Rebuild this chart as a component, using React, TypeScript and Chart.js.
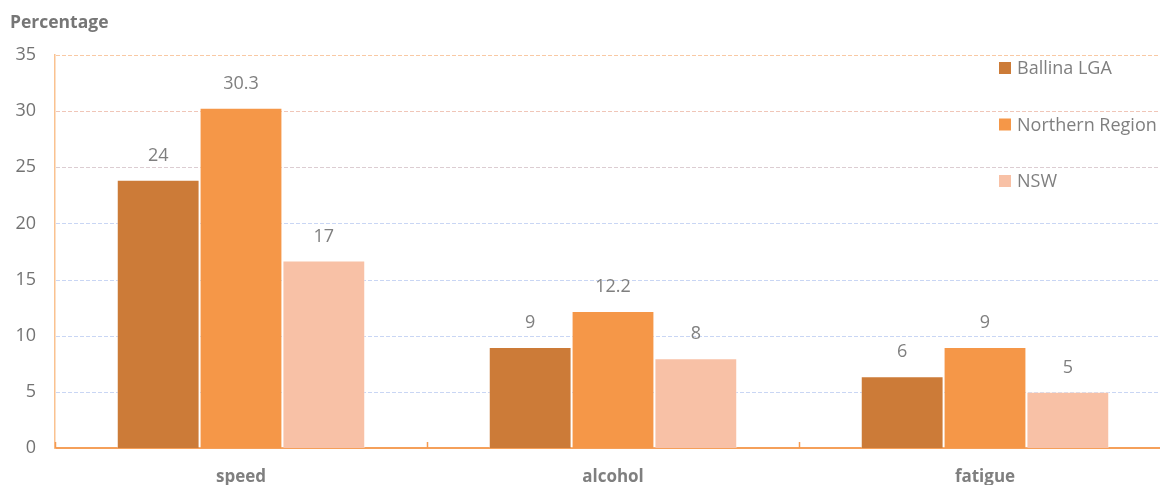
import { useEffect, useRef } from 'react'
import { Chart, registerables } from 'chart.js'
import type { Plugin } from 'chart.js'

Chart.register(...registerables)

const CATEGORIES = ['speed', 'alcohol', 'fatigue']
const SERIES_NAMES = ['Ballina LGA', 'Northern Region', 'NSW']
const BALLINA = [23.9, 9.0, 6.4]
const NORTHERN = [30.3, 12.2, 9.0]
const NSW = [16.7, 8.0, 5.0]
// decimals shown in the value labels, per series
const LABEL_DECIMALS = [0, 1, 0]
const Y_TICKS = [0, 5, 10, 15, 20, 25, 30, 35]
const Y_TITLE = 'Percentage'

const COLOURS = ['#cc7b38', '#f59748', '#f8c1a6']
const FONT = '"Open Sans", "DejaVu Sans", sans-serif'
const GREY = '#7f7f7f'

function gridColour(v: number) {
  if (v >= 35) return '#f9c9a4'
  if (v >= 30) return '#f0c6b8'
  if (v >= 25) return '#dccdd2'
  return '#c9d6f4'
}

function fmt(v: number, d: number) {
  return d === 0 ? String(Math.round(v)) : String(Number(v.toFixed(d)))
}

// dashed horizontal gridlines, tinted from peach (top) to blue (bottom)
const tintedGrid: Plugin<'bar'> = {
  id: 'tintedGrid',
  beforeDatasetsDraw(chart) {
    const { ctx, chartArea } = chart
    const y = chart.scales.y
    ctx.save()
    ctx.lineWidth = 1
    ctx.setLineDash([4, 2])
    Y_TICKS.forEach((v) => {
      if (v === 0) return
      const py = Math.round(y.getPixelForValue(v)) + 0.5
      ctx.strokeStyle = gridColour(v)
      ctx.beginPath()
      ctx.moveTo(chartArea.left + 1, py)
      ctx.lineTo(chartArea.right, py)
      ctx.stroke()
    })
    ctx.restore()
  },
}

const valueLabels: Plugin<'bar'> = {
  id: 'valueLabels',
  afterDatasetsDraw(chart) {
    const { ctx } = chart
    ctx.save()
    ctx.font = `18px ${FONT}`
    ctx.fillStyle = GREY
    ctx.textAlign = 'center'
    ctx.textBaseline = 'middle'
    chart.data.datasets.forEach((ds, di) => {
      chart.getDatasetMeta(di).data.forEach((el, i) => {
        ctx.fillText(fmt(ds.data[i] as number, LABEL_DECIMALS[di]), el.x, el.y - 24)
      })
    })
    ctx.restore()
  },
}

const sideLegend: Plugin<'bar'> = {
  id: 'sideLegend',
  afterDraw(chart) {
    const { ctx } = chart
    ctx.save()
    ctx.font = `18px ${FONT}`
    ctx.textBaseline = 'middle'
    ctx.textAlign = 'left'
    chart.data.datasets.forEach((ds, i) => {
      const y = 68 + i * 56.5
      ctx.fillStyle = ds.backgroundColor as string
      ctx.fillRect(999, y - 6, 12, 12)
      ctx.fillStyle = GREY
      ctx.fillText(ds.label ?? '', 1017, y + 1)
    })
    // axis title
    ctx.font = `bold 17.5px ${FONT}`
    ctx.fillStyle = '#767676'
    ctx.fillText(Y_TITLE, 10, 23)
    ctx.restore()
  },
}

const catTicks: Plugin<'bar'> = {
  id: 'catTicks',
  afterDatasetsDraw(chart) {
    const { ctx, chartArea } = chart
    const x = chart.scales.x
    ctx.save()
    ctx.strokeStyle = '#f59a50'
    ctx.lineWidth = 1.5
    for (let i = 0; i <= CATEGORIES.length; i++) {
      const px = Math.round(x.getPixelForValue(i - 0.5)) + 0.5
      ctx.beginPath()
      ctx.moveTo(px, chartArea.bottom)
      ctx.lineTo(px, chartArea.bottom - 6)
      ctx.stroke()
    }
    ctx.restore()
  },
}

export default function App() {
  const canvasRef = useRef<HTMLCanvasElement>(null)
  const chartRef = useRef<Chart | null>(null)

  useEffect(() => {
    if (!canvasRef.current) return
    chartRef.current?.destroy()
    const series = [BALLINA, NORTHERN, NSW]
    chartRef.current = new Chart(canvasRef.current, {
      type: 'bar',
      data: {
        labels: CATEGORIES,
        datasets: series.map((d, i) => ({
          label: SERIES_NAMES[i],
          data: d,
          backgroundColor: COLOURS[i],
          borderColor: 'rgba(255,255,255,0.35)',
          borderWidth: 1,
          categoryPercentage: 0.668,
          barPercentage: 1.0,
        })),
      },
      options: {
        responsive: true,
        maintainAspectRatio: false,
        animation: false,
        layout: { padding: { left: 0, right: 9, top: 55, bottom: 0 } },
        plugins: {
          legend: { display: false },
          tooltip: { enabled: false },
        },
        scales: {
          x: {
            afterFit: (s) => { s.height = 37 },
            grid: { display: false },
            border: { display: true, color: '#f5a05a', width: 2 },
            ticks: { color: GREY, font: { family: FONT, size: 17, weight: 'bold' }, padding: 11 },
          },
          y: {
            min: Y_TICKS[0],
            max: Y_TICKS[Y_TICKS.length - 1],
            afterFit: (s) => { s.width = 55 },
            ticks: {
              stepSize: Y_TICKS[1] - Y_TICKS[0],
              color: '#737373',
              font: { family: FONT, size: 18 },
              padding: 19,
            },
            grid: { display: false, drawTicks: false },
            border: { display: true, color: '#fac290', width: 1.5 },
          },
        },
      },
      plugins: [tintedGrid, valueLabels, sideLegend, catTicks],
    })
    return () => { chartRef.current?.destroy(); chartRef.current = null }
  }, [])

  return (
    <div style={{ position: 'fixed', left: 0, top: 0, width: 1160, height: 485, overflow: 'hidden', background: '#fff' }}>
      <div style={{ position: 'relative', width: 1180, height: 485 }}>
        <canvas ref={canvasRef} />
      </div>
    </div>
  )
}
